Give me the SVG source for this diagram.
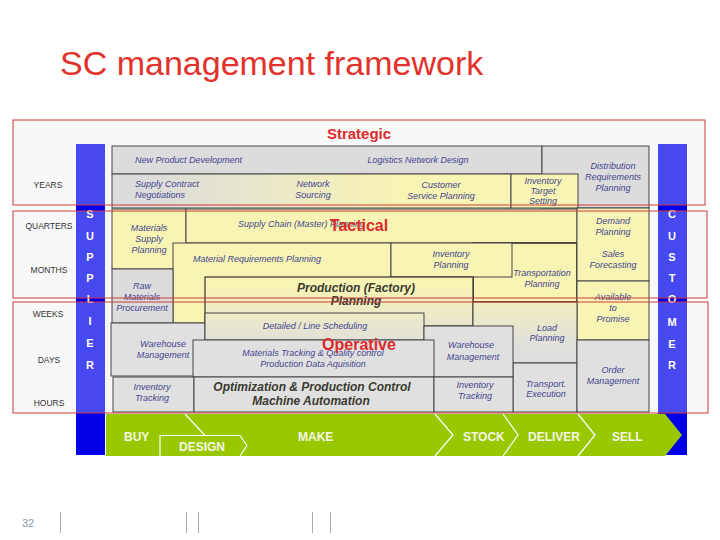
<svg xmlns="http://www.w3.org/2000/svg" width="720" height="540" viewBox="0 0 720 540">
<style>
.t{font-family:"Liberation Sans",Arial,sans-serif;font-size:9px;font-style:italic;fill:#45458e}
.m{text-anchor:middle}
.lbl{font-family:"Liberation Sans",Arial,sans-serif;font-size:8.5px;fill:#333;text-anchor:middle}
.bl{font-family:"Liberation Sans",Arial,sans-serif;font-size:11px;font-weight:bold;fill:#fff;text-anchor:middle}
.band{font-family:"Liberation Sans",Arial,sans-serif;font-size:12px;font-weight:bold;fill:#f6f6e4}
.big{font-family:"Liberation Sans",Arial,sans-serif;font-size:12px;font-weight:bold;font-style:italic;fill:#3a3a30;text-anchor:middle}
.ttl{font-family:"Liberation Sans",Arial,sans-serif;font-size:16px;font-weight:bold;fill:#dd2b2b;text-anchor:middle}
.box{stroke:#444;stroke-width:1}
.y{fill:#f8f4b4}
.g{fill:#dcdcdc}
.g2{fill:#e0e0e0}
.ffill{fill:#f8f8f8}
.frame{fill:none;stroke:#cc3a3a;stroke-width:1}
.chev{fill:none;stroke:#fff;stroke-width:1.2}
</style>
<defs>
<linearGradient id="hgrad" gradientUnits="userSpaceOnUse" x1="150" y1="0" x2="400" y2="0">
<stop offset="0" stop-color="#dcdcdc"/><stop offset="1" stop-color="#f8f4b4"/>
</linearGradient>
<linearGradient id="vgrad" gradientUnits="userSpaceOnUse" x1="0" y1="285" x2="0" y2="350">
<stop offset="0" stop-color="#f8f4b4"/><stop offset="1" stop-color="#dedede"/>
</linearGradient>
</defs>
<rect width="720" height="540" fill="#fff"/>
<text x="60" y="75" font-family="Liberation Sans, Arial, sans-serif" font-size="34" fill="#e2322c">SC management framework</text>

<g id="frame-fills">
<rect class="ffill" x="13" y="120" width="692" height="85"/>
<rect class="ffill" x="13" y="211" width="694" height="87"/>
<rect class="ffill" x="13" y="302" width="695" height="111"/>
</g>

<g id="time-scale">
<text class="lbl" x="48" y="188">YEARS</text>
<text class="lbl" x="49" y="229">QUARTERS</text>
<text class="lbl" x="49" y="273">MONTHS</text>
<text class="lbl" x="48" y="317">WEEKS</text>
<text class="lbl" x="49" y="363">DAYS</text>
<text class="lbl" x="49" y="406">HOURS</text>
</g>

<g id="supplier-bar">
<rect x="76" y="144" width="29" height="311" fill="#0000e6"/>
<rect x="76" y="144" width="29" height="61" fill="#4848f0"/>
<rect x="76" y="211" width="29" height="87" fill="#4848f0"/>
<rect x="76" y="302" width="29" height="111" fill="#4848f0"/>
<text class="bl" x="90" y="218">S</text>
<text class="bl" x="90" y="240">U</text>
<text class="bl" x="90" y="261">P</text>
<text class="bl" x="90" y="282">P</text>
<text class="bl" x="90" y="303">L</text>
<text class="bl" x="90" y="325">I</text>
<text class="bl" x="90" y="347">E</text>
<text class="bl" x="90" y="369">R</text>
</g>

<g id="customer-bar">
<rect x="658" y="144" width="29" height="311" fill="#0000e6"/>
<rect x="658" y="144" width="29" height="61" fill="#4848f0"/>
<rect x="658" y="211" width="29" height="87" fill="#4848f0"/>
<rect x="658" y="302" width="29" height="111" fill="#4848f0"/>
<text class="bl" x="672" y="218">C</text>
<text class="bl" x="672" y="240">U</text>
<text class="bl" x="672" y="261">S</text>
<text class="bl" x="672" y="282">T</text>
<text class="bl" x="672" y="303">O</text>
<text class="bl" x="672" y="326">M</text>
<text class="bl" x="672" y="348">E</text>
<text class="bl" x="672" y="369">R</text>
</g>

<g id="strategic-blocks">
<g id="npd"><rect class="box g" x="112" y="146" width="430" height="28"/>
<text class="t" x="135" y="163">New Product Development</text>
<text class="t m" x="418" y="163">Logistics Network Design</text></g>
<g id="drp"><rect class="box g" x="542" y="146" width="107" height="62"/>
<text class="t m" x="613" y="169">Distribution</text>
<text class="t m" x="613" y="180">Requirements</text>
<text class="t m" x="613" y="191">Planning</text></g>
<g id="scn"><rect class="box" fill="url(#hgrad)" x="112" y="174" width="399" height="34"/>
<text class="t" x="135" y="187">Supply Contract</text>
<text class="t" x="135" y="198">Negotiations</text>
<text class="t m" x="313" y="187">Network</text>
<text class="t m" x="313" y="198">Sourcing</text>
<text class="t m" x="441" y="188">Customer</text>
<text class="t m" x="441" y="199">Service Planning</text></g>
<g id="its"><rect class="box y" x="511" y="174" width="67" height="34"/>
<text class="t m" x="543" y="184">Inventory</text>
<text class="t m" x="543" y="194">Target</text>
<text class="t m" x="543" y="204">Setting</text></g>
</g>

<g id="tactical-blocks">
<g id="msp"><rect class="box y" x="112" y="209" width="74" height="60"/>
<text class="t m" x="149" y="231">Materials</text>
<text class="t m" x="149" y="242">Supply</text>
<text class="t m" x="149" y="253">Planning</text></g>
<g id="scmp"><rect class="box y" x="186" y="209" width="391" height="34"/>
<text class="t" x="238" y="227">Supply Chain (Master) Planning</text></g>
<g id="tp"><rect class="y" x="473" y="243" width="104" height="59" stroke="#333" stroke-width="1.6"/>
<text class="t m" x="542" y="276">Transportation</text>
<text class="t m" x="542" y="287">Planning</text></g>
<g id="mrp"><rect class="box y" x="173" y="243" width="218" height="80"/>
<text class="t" x="193" y="262">Material Requirements Planning</text></g>
<g id="ip"><rect class="box y" x="391" y="243" width="121" height="34"/>
<text class="t m" x="451" y="257">Inventory</text>
<text class="t m" x="451" y="268">Planning</text></g>
<g id="rmp"><rect class="box g" x="112" y="269" width="61" height="54"/>
<text class="t m" x="142" y="289">Raw</text>
<text class="t m" x="142" y="300">Materials</text>
<text class="t m" x="142" y="311">Procurement</text></g>
<g id="dp"><rect class="box y" x="577" y="208" width="72" height="73"/>
<text class="t m" x="613" y="224">Demand</text>
<text class="t m" x="613" y="235">Planning</text>
<text class="t m" x="613" y="257">Sales</text>
<text class="t m" x="613" y="268">Forecasting</text></g>
<g id="atp"><rect class="box y" x="577" y="281" width="72" height="59"/>
<text class="t m" x="613" y="300">Available</text>
<text class="t m" x="613" y="311">to</text>
<text class="t m" x="613" y="322">Promise</text></g>
<g id="pfp"><rect x="205" y="277" width="268" height="49" fill="url(#vgrad)" stroke="#333" stroke-width="1.2"/>
<text class="big" x="356" y="292">Production (Factory)</text>
<text class="big" x="356" y="305">Planning</text></g>
</g>

<g id="operative-blocks">
<g id="lp"><rect class="box" fill="url(#vgrad)" x="473" y="302" width="104" height="61"/>
<text class="t m" x="547" y="331">Load</text>
<text class="t m" x="547" y="341">Planning</text></g>
<g id="te"><rect class="box g2" x="513" y="363" width="64" height="49"/>
<text class="t m" x="546" y="387">Transport.</text>
<text class="t m" x="546" y="397">Execution</text></g>
<g id="om"><rect class="box g2" x="577" y="340" width="72" height="72"/>
<text class="t m" x="613" y="373">Order</text>
<text class="t m" x="613" y="384">Management</text></g>
<g id="wm-left"><rect class="box g2" x="111" y="323" width="94" height="53"/>
<text class="t m" x="163" y="347">Warehouse</text>
<text class="t m" x="163" y="358">Management</text></g>
<g id="dls"><rect class="box" fill="url(#vgrad)" x="205" y="313" width="219" height="27"/>
<text class="t m" x="315" y="329">Detailed / Line Scheduling</text></g>
<g id="wm-right"><rect class="box g2" x="424" y="326" width="89" height="51"/>
<text class="t m" x="471" y="348">Warehouse</text>
<text class="t m" x="473" y="360">Management</text></g>
<g id="mtqc"><rect class="box g2" x="193" y="340" width="241" height="37"/>
<text class="t m" x="313" y="356">Materials Tracking &amp; Quality control</text>
<text class="t m" x="313" y="367">Production Data Aquisition</text></g>
<g id="it-left"><rect class="box g2" x="113" y="377" width="81" height="35"/>
<text class="t m" x="152" y="390">Inventory</text>
<text class="t m" x="152" y="401">Tracking</text></g>
<g id="opc"><rect class="box g2" x="194" y="377" width="240" height="35"/>
<text class="big" x="312" y="391">Optimization &amp; Production Control</text>
<text class="big" x="311" y="405">Machine Automation</text></g>
<g id="it-right"><rect class="box g2" x="434" y="377" width="79" height="35"/>
<text class="t m" x="475" y="388">Inventory</text>
<text class="t m" x="475" y="399">Tracking</text></g>
</g>

<g id="frames">
<rect class="frame" x="13" y="120" width="692" height="85"/>
<rect class="frame" x="13" y="211" width="694" height="87"/>
<rect class="frame" x="13" y="302" width="695" height="111"/>
<text class="ttl" x="359" y="139" style="font-size:15px">Strategic</text>
<text class="ttl" x="359" y="231">Tactical</text>
<text class="ttl" x="359" y="350">Operative</text>
</g>

<g id="value-chain">
<polygon points="106,414 665,414 682,435 665,456 106,456" fill="#99c800"/>
<path class="chev" d="M185,414 L205,435.5 M160,456 V435.5 H240 L247,445.5 L240,456"/>
<path class="chev" d="M435,414 L453,435 L435,456"/>
<path class="chev" d="M503,414 L518,435 L503,456"/>
<path class="chev" d="M578,414 L595,435 L578,456"/>
<text class="band" x="124" y="441">BUY</text>
<text class="band" x="179" y="451">DESIGN</text>
<text class="band" x="298" y="441">MAKE</text>
<text class="band" x="463" y="441">STOCK</text>
<text class="band" x="528" y="441">DELIVER</text>
<text class="band" x="612" y="441">SELL</text>
</g>

<g id="connectors"></g>

<g id="footer">
<text x="22" y="527" font-family="Liberation Sans, Arial, sans-serif" font-size="11" fill="#8a9aa8">32</text>
<g stroke="#a8a8a8" stroke-width="1">
<line x1="60.5" y1="512" x2="60.5" y2="533"/>
<line x1="186.5" y1="512" x2="186.5" y2="533"/>
<line x1="198.5" y1="512" x2="198.5" y2="533"/>
<line x1="312.5" y1="512" x2="312.5" y2="533"/>
<line x1="330.5" y1="512" x2="330.5" y2="533"/>
</g>
</g>
</svg>
